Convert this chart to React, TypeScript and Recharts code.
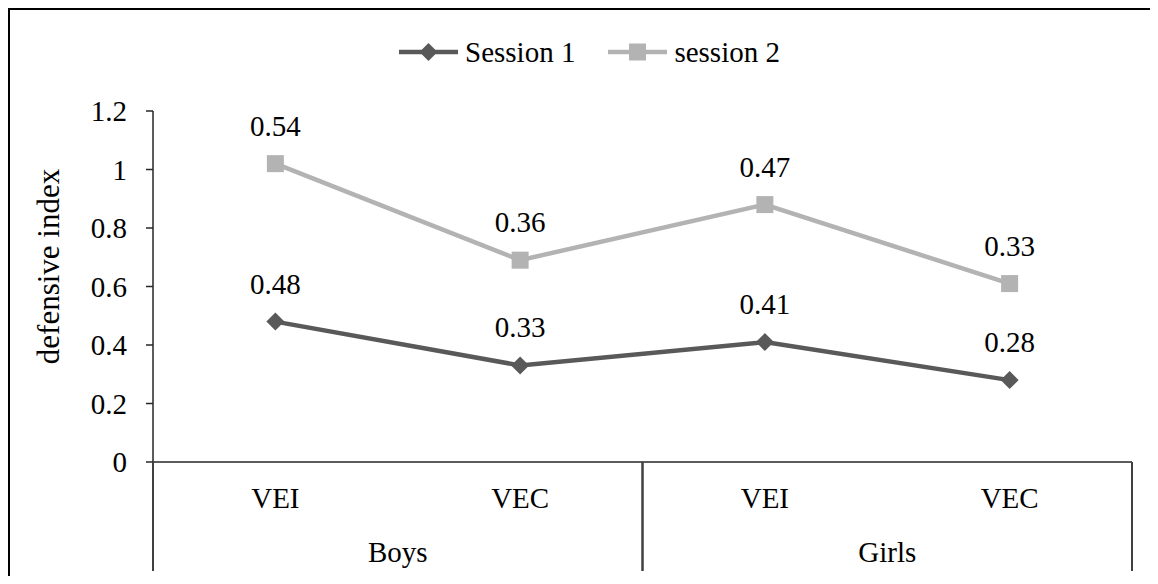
import { LineChart, Line, XAxis, YAxis, Legend, LabelList } from 'recharts'

const categories = ['VEI', 'VEC', 'VEI', 'VEC']
const groups = ['Boys', 'Girls']
const seriesNames = ['Session 1', 'session 2']
const session1 = [0.48, 0.33, 0.41, 0.28]
const session2 = [0.54, 0.36, 0.47, 0.33]
const yTicks = [0, 0.2, 0.4, 0.6, 0.8, 1, 1.2]

const FONT = '"Liberation Serif", "Times New Roman", serif'
const FS = 29
const DARK = '#595959'
const LIGHT = '#b3b3b3'

const perGroup = categories.length / groups.length

// session 2 is drawn stacked on session 1, but labelled with its own value
const data = categories.map((sub, i) => ({
  key: `${groups[Math.floor(i / perGroup)]} ${sub}`,
  sub,
  s1: session1[i],
  s2: session2[i],
  s2top: +(session1[i] + session2[i]).toFixed(2),
}))

const Diamond = ({ cx, cy }: any) => (
  <path d={`M${cx},${cy - 9}L${cx + 9},${cy}L${cx},${cy + 9}L${cx - 9},${cy}Z`} fill={DARK} />
)

const Square = ({ cx, cy }: any) => (
  <rect x={cx - 8.5} y={cy - 8.5} width={17} height={17} fill={LIGHT} />
)

// two-level category tick: sub label, group label and group dividers
const CatTick = (props: any) => {
  const { x, y, index, width, visibleTicksCount } = props
  const band = width / visibleTicksCount
  const first = index % perGroup === 0
  const last = index % perGroup === perGroup - 1
  const left = x - band / 2
  const right = x + band / 2
  return (
    <g>
      <text x={x} y={y + 46} textAnchor="middle" fill="#000" fontSize={FS} fontFamily={FONT}>
        {categories[index]}
      </text>
      {first && (
        <line x1={left} x2={left} y1={y} y2={y + 109} stroke="#404040" strokeWidth={2} />
      )}
      {last && (
        <line x1={right} x2={right} y1={y} y2={y + 109} stroke="#404040" strokeWidth={2} />
      )}
      {first && (
        <text
          x={x + (band * (perGroup - 1)) / 2}
          y={y + 100}
          textAnchor="middle"
          fill="#000"
          fontSize={FS}
          fontFamily={FONT}
        >
          {groups[index / perGroup]}
        </text>
      )}
    </g>
  )
}

const YLabel = ({ viewBox }: any) => {
  const cx = viewBox.x + 38
  const cy = viewBox.y + viewBox.height / 2 - 20
  return (
    <text
      x={cx}
      y={cy}
      transform={`rotate(-90 ${cx} ${cy})`}
      textAnchor="middle"
      dominantBaseline="central"
      fill="#000"
      fontSize={31}
      fontFamily={FONT}
    >
      defensive index
    </text>
  )
}

const LegendKey = ({ color, square }: { color: string; square: boolean }) => (
  <svg width={59} height={20} style={{ display: 'block' }}>
    <line x1={0} x2={59} y1={10} y2={10} stroke={color} strokeWidth={4.5} />
    {square ? (
      <rect x={21} y={1.5} width={17} height={17} fill={color} />
    ) : (
      <path d="M29.5,1L38.5,10L29.5,19L20.5,10Z" fill={color} />
    )}
  </svg>
)

const renderLegend = () => (
  <div
    style={{
      display: 'flex',
      justifyContent: 'center',
      alignItems: 'center',
      paddingLeft: 19,
      fontFamily: FONT,
      fontSize: FS,
      color: '#000',
    }}
  >
    {seriesNames.map((name, i) => (
      <div
        key={name}
        style={{ display: 'flex', alignItems: 'center', marginLeft: i ? 33 : 0 }}
      >
        <LegendKey color={i ? LIGHT : DARK} square={i === 1} />
        <span style={{ marginLeft: 7, lineHeight: '34px' }}>{name}</span>
      </div>
    ))}
  </div>
)

export default function App() {
  return (
    <div
      style={{
        width: 1140,
        height: 566,
        borderTop: '2px solid #000',
        borderLeft: '2px solid #000',
        position: 'relative',
      }}
    >
      <LineChart
        width={1140}
        height={566}
        data={data}
        margin={{ top: 101, right: 18, bottom: 0, left: 0 }}
      >
        <XAxis
          dataKey="key"
          scale="band"
          height={114}
          tickSize={0}
          tickMargin={0}
          tickLine={false}
          axisLine={{ stroke: '#262626', strokeWidth: 1.5 }}
          tick={<CatTick />}
          interval={0}
        />
        <YAxis
          domain={[0, 1.2]}
          ticks={yTicks}
          width={143}
          tickSize={7}
          tickMargin={19}
          axisLine={{ stroke: '#262626', strokeWidth: 1.5 }}
          tickLine={{ stroke: '#262626', strokeWidth: 1.5 }}
          tick={{ fill: '#000', fontSize: FS, fontFamily: FONT }}
          tickFormatter={(v: number) => String(v)}
          label={<YLabel />}
        />
        <Legend
          verticalAlign="middle"
          align="center"
          wrapperStyle={{ top: 25, left: 0, width: 1140 }}
          content={renderLegend}
        />
        <Line
          dataKey="s1"
          name={seriesNames[0]}
          stroke={DARK}
          strokeWidth={4.5}
          dot={<Diamond />}
          activeDot={false}
          isAnimationActive={false}
        >
          <LabelList
            dataKey="s1"
            position="top"
            offset={28}
            fill="#000"
            fontSize={FS}
            fontFamily={FONT}
          />
        </Line>
        <Line
          dataKey="s2top"
          name={seriesNames[1]}
          stroke={LIGHT}
          strokeWidth={4.5}
          dot={<Square />}
          activeDot={false}
          isAnimationActive={false}
        >
          <LabelList
            dataKey="s2"
            position="top"
            offset={28}
            fill="#000"
            fontSize={FS}
            fontFamily={FONT}
          />
        </Line>
      </LineChart>
    </div>
  )
}
